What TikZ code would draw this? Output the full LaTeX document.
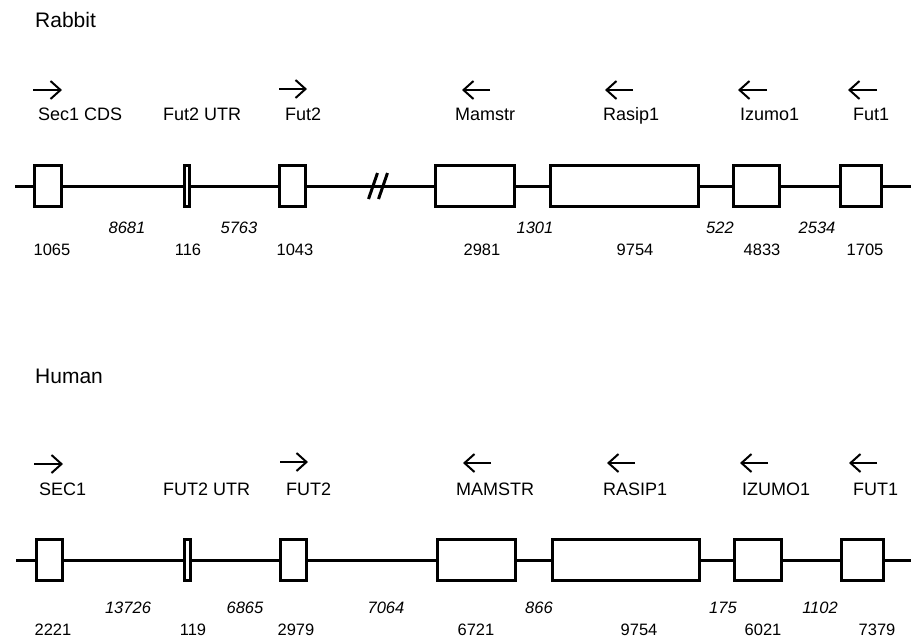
\documentclass[tikz,border=0pt]{standalone}
\usepackage{fontspec}
\setmainfont{Liberation Sans}
\usetikzlibrary{arrows.meta}

\tikzset{
  exon/.style={draw, line width=3pt, inner sep=0pt, minimum height=41pt},
  intron/.style={line width=3pt},
  genedir/.style={line width=2pt, -{Straight Barb[length=10pt, width=18pt, line width=2pt]}},
  genelabel/.style={anchor=base west, inner sep=0pt, font=\fontsize{18}{20}\selectfont},
  exonlen/.style={inner sep=0pt, font=\fontsize{16.5}{18}\selectfont},
  intronlen/.style={inner sep=0pt, font=\fontsize{16.5}{18}\selectfont\itshape},
  species/.style={anchor=west, inner sep=0pt, font=\fontsize{21}{23}\selectfont}
}

\begin{document}
\begin{tikzpicture}[x=1pt, y=-1pt]
    \useasboundingbox (0,0) rectangle (911,638);
    % Rabbit
    \node[species] (rabbit) at (35,20) {Rabbit};
    \draw[genedir] (33,90) -- (62,90);   \draw[genedir] (279,89) -- (307,89);
    \draw[genedir] (490,90) -- (462,90); \draw[genedir] (633,90) -- (605,90);
    \draw[genedir] (767,90) -- (738,90); \draw[genedir] (877,90) -- (848,90);
    \node[genelabel] (rsec) at (38,120) {Sec1 CDS};
    \node[genelabel] (rutr) at (163,120) {Fut2 UTR};
    \node[genelabel] (rfuttwo) at (285,120) {Fut2};
    \node[genelabel] (rmam) at (455,120) {Mamstr};
    \node[genelabel] (rras) at (603,120) {Rasip1};
    \node[genelabel] (rizu) at (740,120) {Izumo1};
    \node[genelabel] (rfutone) at (853,120) {Fut1};
    \coordinate (rstart) at (15,186); \coordinate (rend) at (911,186);
    \node[exon, minimum width=27pt] (re1) at (48,186) {};
    \node[exon, minimum width=5pt] (re2) at (187,186) {};
    \node[exon, minimum width=26pt] (re3) at (292.5,186) {};
    \node[exon, minimum width=79pt] (re4) at (475,186) {};
    \node[exon, minimum width=148pt] (re5) at (624.5,186) {};
    \node[exon, minimum width=46pt] (re6) at (756.5,186) {};
    \node[exon, minimum width=41pt] (re7) at (861,186) {};
    \draw[intron] (rstart) -- (re1); \draw[intron] (re1) -- (re2); \draw[intron] (re2) -- (re3);
    \draw[intron] (re3) -- (re4); \draw[intron] (re4) -- (re5); \draw[intron] (re5) -- (re6);
    \draw[intron] (re6) -- (re7); \draw[intron] (re7) -- (rend);
    % break in the line
    \draw[intron] (368.5,199) -- (377.5,173); \draw[intron] (378.5,199) -- (387.5,173);
    \node[intronlen] (ri1) at (127,228) {8681};  \node[intronlen] (ri2) at (239,228) {5763};
    \node[intronlen] (ri4) at (535,228) {1301};  \node[intronlen] (ri5) at (720,228) {522};
    \node[intronlen] (ri6) at (817,228) {2534};
    \node[exonlen] (rl1) at (52,250) {1065};  \node[exonlen] (rl2) at (188,250) {116};
    \node[exonlen] (rl3) at (295,250) {1043}; \node[exonlen] (rl4) at (482,250) {2981};
    \node[exonlen] (rl5) at (635,250) {9754}; \node[exonlen] (rl6) at (762,250) {4833};
    \node[exonlen] (rl7) at (865,250) {1705};
    % Human
    \node[species] (human) at (35,376) {Human};
    \draw[genedir] (34,464) -- (63,464);   \draw[genedir] (280,462) -- (308,462);
    \draw[genedir] (491,463) -- (463,463); \draw[genedir] (635,463) -- (607,463);
    \draw[genedir] (768,463) -- (740,463); \draw[genedir] (877,463) -- (849,463);
    \node[genelabel] (hsec) at (39,495) {SEC1};
    \node[genelabel] (hutr) at (163,495) {FUT2 UTR};
    \node[genelabel] (hfuttwo) at (286,495) {FUT2};
    \node[genelabel] (hmam) at (456,495) {MAMSTR};
    \node[genelabel] (hras) at (603,495) {RASIP1};
    \node[genelabel] (hizu) at (742,495) {IZUMO1};
    \node[genelabel] (hfutone) at (853,495) {FUT1};
    \coordinate (hstart) at (16,560); \coordinate (hend) at (911,560);
    \node[exon, minimum width=26pt] (he1) at (49,560) {};
    \node[exon, minimum width=6pt] (he2) at (187.5,560) {};
    \node[exon, minimum width=26pt] (he3) at (293.5,560) {};
    \node[exon, minimum width=78pt] (he4) at (476.5,560) {};
    \node[exon, minimum width=147pt] (he5) at (626,560) {};
    \node[exon, minimum width=47pt] (he6) at (758,560) {};
    \node[exon, minimum width=42pt] (he7) at (862.5,560) {};
    \draw[intron] (hstart) -- (he1); \draw[intron] (he1) -- (he2); \draw[intron] (he2) -- (he3);
    \draw[intron] (he3) -- (he4); \draw[intron] (he4) -- (he5); \draw[intron] (he5) -- (he6);
    \draw[intron] (he6) -- (he7); \draw[intron] (he7) -- (hend);
    \node[intronlen] (hi1) at (128,608) {13726}; \node[intronlen] (hi2) at (245,608) {6865};
    \node[intronlen] (hi3) at (386,608) {7064};  \node[intronlen] (hi4) at (539,608) {866};
    \node[intronlen] (hi5) at (723,608) {175};   \node[intronlen] (hi6) at (820,608) {1102};
    \node[exonlen] (hl1) at (53,630) {2221};  \node[exonlen] (hl2) at (193,630) {119};
    \node[exonlen] (hl3) at (296,630) {2979}; \node[exonlen] (hl4) at (476,630) {6721};
    \node[exonlen] (hl5) at (639,630) {9754}; \node[exonlen] (hl6) at (763,630) {6021};
    \node[exonlen] (hl7) at (877,630) {7379};
\end{tikzpicture}
\end{document}
